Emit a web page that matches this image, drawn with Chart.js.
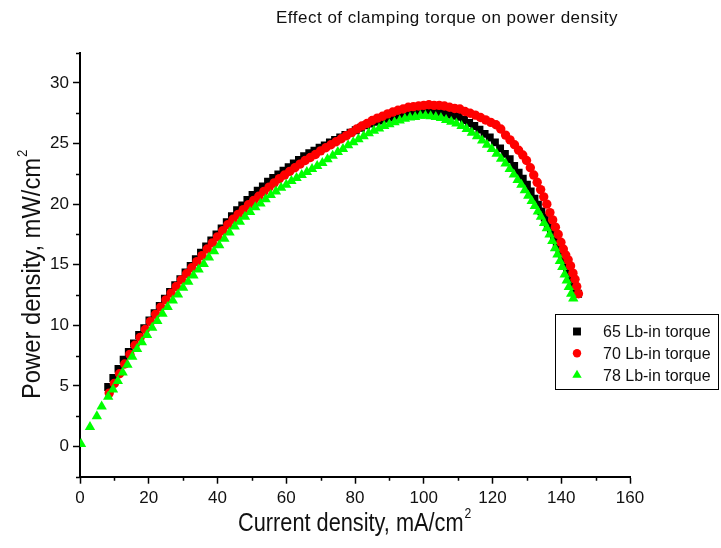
<!DOCTYPE html>
<html><head><meta charset="utf-8">
<script src="https://cdn.jsdelivr.net/npm/chart.js@4.4.0/dist/chart.umd.min.js"></script>
<style>html,body{margin:0;padding:0;background:#fff;overflow:hidden}#wrap{width:721px;height:548px;position:relative}</style>
</head><body><div id="wrap"><canvas id="c" width="721" height="548"></canvas></div>
<script>
const chartTitle = 'Effect of clamping torque on power density';
const xAxisTitle = 'Current density, mA/cm';
const yAxisTitle = 'Power density, mW/cm';
const unitExponent = '2';
const seriesLabels = ['65 Lb-in torque', '70 Lb-in torque', '78 Lb-in torque'];
const xTickValues = [0, 20, 40, 60, 80, 100, 120, 140, 160];
const yTickValues = [0, 5, 10, 15, 20, 25, 30];
const xMinorTicks = [10, 30, 50, 70, 90, 110, 130, 150];
const yMinorTicks = [-2.5, 2.5, 7.5, 12.5, 17.5, 22.5, 27.5, 32.5];

// [current density mA/cm2, power density mW/cm2]
const points65 = [[8.2,4.9],[9.7,5.65],[11.2,6.4],[12.7,7.15],[14.2,7.8],[15.7,8.5],[17.2,9.2],[18.7,9.75],[20.2,10.4],[21.7,11.0],[23.2,11.6],[24.7,12.2],[26.2,12.75],[27.7,13.3],[29.2,13.8],[30.7,14.35],[32.2,14.9],[33.7,15.45],[35.2,16.0],[36.7,16.5],[38.2,17.0],[39.7,17.5],[41.2,18.0],[42.7,18.5],[44.2,19.0],[45.7,19.5],[47.2,19.9],[48.7,20.35],[50.2,20.75],[51.7,21.1],[53.2,21.45],[54.7,21.85],[56.2,22.15],[57.7,22.45],[59.2,22.75],[60.7,23.05],[62.2,23.35],[63.7,23.65],[65.2,23.95],[66.7,24.2],[68.2,24.4],[69.7,24.65],[71.2,24.85],[72.7,25.1],[74.2,25.3],[75.7,25.5],[77.2,25.7],[78.7,25.9],[80.2,26.1],[81.7,26.3],[83.2,26.5],[84.7,26.65],[86.2,26.8],[87.7,26.9],[89.2,27.05],[90.7,27.15],[92.2,27.3],[93.7,27.4],[95.2,27.5],[96.7,27.55],[98.2,27.65],[99.7,27.7],[101.2,27.7],[102.7,27.65],[104.2,27.6],[105.7,27.55],[107.2,27.4],[108.7,27.3],[110.2,27.2],[111.7,26.95],[113.2,26.7],[114.7,26.45],[116.2,26.15],[117.7,25.8],[119.2,25.5],[120.7,25.1],[122.2,24.6],[123.6,24.15],[125.0,23.7],[126.3,23.15],[127.6,22.6],[128.8,22.1],[130.0,21.6],[131.1,21.05],[132.2,20.45],[133.2,19.95],[134.2,19.4],[135.2,18.9],[136.1,18.3],[137.0,17.75],[137.9,17.15],[138.7,16.6],[139.5,16.05],[140.3,15.5],[141.0,15.05],[141.7,14.6],[142.4,14.15],[143.1,13.7],[143.7,13.35],[144.3,13.0],[144.9,12.6]];

const points70 = [[8.5,4.4],[10.0,5.2],[11.5,6.0],[13.0,6.8],[14.5,7.6],[16.0,8.35],[17.5,9.0],[19.0,9.65],[20.5,10.3],[22.0,10.9],[23.5,11.5],[25.0,12.1],[26.5,12.65],[28.0,13.2],[29.5,13.75],[31.0,14.25],[32.5,14.75],[34.0,15.25],[35.5,15.75],[37.0,16.3],[38.5,16.8],[40.0,17.3],[41.5,17.8],[43.0,18.3],[44.5,18.75],[46.0,19.15],[47.5,19.55],[49.0,19.95],[50.5,20.3],[52.0,20.65],[53.5,21.05],[55.0,21.4],[56.5,21.75],[58.0,22.1],[59.5,22.4],[61.0,22.7],[62.5,23.0],[64.0,23.3],[65.5,23.6],[67.0,23.85],[68.5,24.1],[70.0,24.4],[71.5,24.65],[73.0,24.9],[74.5,25.15],[76.0,25.4],[77.5,25.65],[79.0,25.9],[80.5,26.2],[82.0,26.45],[83.5,26.65],[85.0,26.9],[86.5,27.1],[88.0,27.25],[89.5,27.45],[91.0,27.6],[92.5,27.75],[94.0,27.85],[95.5,28.0],[97.0,28.05],[98.5,28.1],[100.0,28.15],[101.5,28.2],[103.0,28.15],[104.5,28.15],[106.0,28.1],[107.5,28.0],[109.0,27.9],[110.5,27.85],[112.0,27.65],[113.5,27.5],[115.0,27.35],[116.5,27.15],[118.0,26.95],[119.5,26.75],[121.0,26.55],[122.4,26.2],[123.8,25.7],[125.1,25.3],[126.4,24.9],[127.6,24.45],[128.8,24.05],[129.9,23.6],[131.0,23.0],[132.0,22.4],[133.0,21.8],[134.0,21.2],[134.9,20.6],[135.8,20.0],[136.7,19.3],[137.5,18.7],[138.3,18.1],[139.1,17.5],[139.9,16.85],[140.6,16.3],[141.3,15.8],[142.0,15.4],[142.7,14.9],[143.4,14.3],[144.0,13.8],[144.5,13.2],[145.0,12.6]];

const points78 = [[0.3,0.2],[2.9,1.6],[4.9,2.5],[6.3,3.3],[8.2,4.1],[9.6,4.7],[11.0,5.4],[12.4,6.1],[13.8,6.75],[15.2,7.4],[16.6,8.05],[18.0,8.6],[19.5,9.2],[21.0,9.8],[22.5,10.35],[24.0,10.95],[25.5,11.5],[27.0,12.05],[28.5,12.55],[30.0,13.1],[31.5,13.6],[33.0,14.1],[34.5,14.6],[36.0,15.05],[37.5,15.6],[39.0,16.1],[40.5,16.6],[42.0,17.15],[43.5,17.65],[45.0,18.15],[46.5,18.55],[48.0,18.95],[49.5,19.35],[51.0,19.75],[52.5,20.05],[54.0,20.4],[55.5,20.75],[57.0,21.05],[58.5,21.35],[60.0,21.6],[61.5,21.9],[63.0,22.15],[64.5,22.4],[66.0,22.65],[67.5,22.9],[69.0,23.15],[70.5,23.4],[72.0,23.7],[73.5,24.0],[75.0,24.3],[76.5,24.55],[78.0,24.85],[79.5,25.1],[81.0,25.35],[82.5,25.6],[84.0,25.85],[85.5,26.05],[87.0,26.25],[88.5,26.45],[90.0,26.6],[91.5,26.75],[93.0,26.9],[94.5,27.05],[96.0,27.15],[97.5,27.2],[99.0,27.3],[100.5,27.3],[102.0,27.25],[103.5,27.2],[105.0,27.1],[106.5,26.95],[108.0,26.8],[109.5,26.65],[111.0,26.45],[112.5,26.2],[114.0,25.9],[115.5,25.6],[117.0,25.25],[118.4,24.9],[119.8,24.55],[121.2,24.15],[122.5,23.75],[123.8,23.35],[125.0,22.9],[126.2,22.45],[127.3,22.0],[128.4,21.6],[129.4,21.15],[130.4,20.7],[131.4,20.25],[132.3,19.85],[133.2,19.4],[134.1,18.95],[135.0,18.45],[135.8,18.0],[136.6,17.5],[137.4,16.95],[138.2,16.35],[138.9,15.85],[139.6,15.3],[140.3,14.8],[141.0,14.2],[141.6,13.7],[142.2,13.15],[142.9,12.6],[143.5,12.2]];

const toXY = arr => arr.map(p => ({x: p[0], y: p[1]}));
const FONT = '"Liberation Sans", Arial, Helvetica, sans-serif';

const decor = {
  id: 'decor',
  afterDraw(chart) {
    const ctx = chart.ctx;
    const xs = chart.scales.x, ys = chart.scales.y, ca = chart.chartArea;
    ctx.save();
    // minor ticks
    ctx.strokeStyle = '#000';
    ctx.lineWidth = 1.5;
    ctx.beginPath();
    xMinorTicks.forEach(v => { const px = Math.round(xs.getPixelForValue(v)) + 0.5; ctx.moveTo(px, ca.bottom); ctx.lineTo(px, ca.bottom + 4); });
    yMinorTicks.forEach(v => { const py = Math.round(ys.getPixelForValue(v)) + 0.5; ctx.moveTo(ca.left, py); ctx.lineTo(ca.left - 4, py); });
    ctx.stroke();

    // chart title
    ctx.fillStyle = '#111';
    ctx.font = '17px ' + FONT;
    ctx.textAlign = 'center';
    ctx.textBaseline = 'alphabetic';
    try { ctx.letterSpacing = '0.5px'; } catch (e) {}
    ctx.fillText(chartTitle, 447, 23);
    try { ctx.letterSpacing = '0px'; } catch (e) {}

    // x axis title (condensed)
    ctx.save();
    ctx.font = '25px ' + FONT;
    ctx.textAlign = 'left';
    ctx.translate(238, 531);
    ctx.scale(0.87, 1);
    ctx.fillText(xAxisTitle, 0, 0);
    const wx = ctx.measureText(xAxisTitle).width;
    ctx.font = '14px ' + FONT;
    ctx.fillText(unitExponent, wx + 1, -13);
    ctx.restore();

    // y axis title
    ctx.save();
    ctx.font = '25px ' + FONT;
    ctx.textAlign = 'left';
    ctx.translate(40, 399);
    ctx.rotate(-Math.PI / 2);
    ctx.scale(0.95, 1);
    ctx.fillText(yAxisTitle, 0, 0);
    const wy = ctx.measureText(yAxisTitle).width;
    ctx.font = '14px ' + FONT;
    ctx.fillText(unitExponent, wy + 1, -13);
    ctx.restore();

    // legend box
    ctx.lineWidth = 1;
    ctx.strokeStyle = '#000';
    ctx.strokeRect(555.5, 314.5, 163, 75);
    ctx.font = '16px ' + FONT;
    ctx.textAlign = 'left';
    ctx.textBaseline = 'middle';
    chart.data.datasets.forEach((ds, i) => {
      const cy = 331.5 + i * 21.8;
      ctx.fillStyle = ds.backgroundColor;
      Chart.helpers.drawPoint(ctx, {pointStyle: ds.pointStyle, radius: ds.legendRadius, rotation: 0, borderWidth: 0}, 577, cy);
      ctx.fillStyle = '#111';
      ctx.fillText(ds.label, 603, cy + 1);
    });
    ctx.restore();
  }
};

const tickFont = {family: FONT, size: 17};

new Chart(document.getElementById('c'), {
  type: 'scatter',
  data: {
    datasets: [
      {label: seriesLabels[0], data: toXY(points65), pointStyle: 'rect', pointRadius: 5.6, legendRadius: 5.6,
       backgroundColor: '#000000', borderColor: '#000000', borderWidth: 0, order: 3, clip: 0},
      {label: seriesLabels[1], data: toXY(points70), pointStyle: 'circle', pointRadius: 4.7, legendRadius: 4.2,
       backgroundColor: '#ff0000', borderColor: '#ff0000', borderWidth: 0, order: 2, clip: 0},
      {label: seriesLabels[2], data: toXY(points78), pointStyle: 'triangle', pointRadius: 6.0, legendRadius: 5.4,
       backgroundColor: '#00ff00', borderColor: '#00ff00', borderWidth: 0, order: 1, clip: 0}
    ]
  },
  options: {
    responsive: false,
    animation: false,
    devicePixelRatio: 1,
    events: [],
    layout: {padding: {left: 0, top: 52.7, right: 91, bottom: 0}},
    plugins: {legend: {display: false}, title: {display: false}, tooltip: {enabled: false}},
    scales: {
      x: {
        type: 'linear', min: 0, max: 160,
        afterBuildTicks: s => { s.ticks = xTickValues.map(v => ({value: v})); },
        afterFit: s => { s.height = 71.3; },
        ticks: {font: tickFont, color: '#111', padding: 4, maxRotation: 0, autoSkip: false},
        grid: {drawOnChartArea: false, drawTicks: true, tickLength: 7, tickColor: '#000', tickWidth: 1.5},
        border: {display: true, color: '#000', width: 2}
      },
      y: {
        type: 'linear', min: -2.5, max: 32.5,
        afterBuildTicks: s => { s.ticks = yTickValues.map(v => ({value: v})); },
        afterFit: s => { s.width = 80; },
        ticks: {font: tickFont, color: '#111', padding: 4, autoSkip: false},
        grid: {drawOnChartArea: false, drawTicks: true, tickLength: 7, tickColor: '#000', tickWidth: 1.5},
        border: {display: true, color: '#000', width: 2}
      }
    }
  },
  plugins: [decor]
});
</script>
</body></html>
